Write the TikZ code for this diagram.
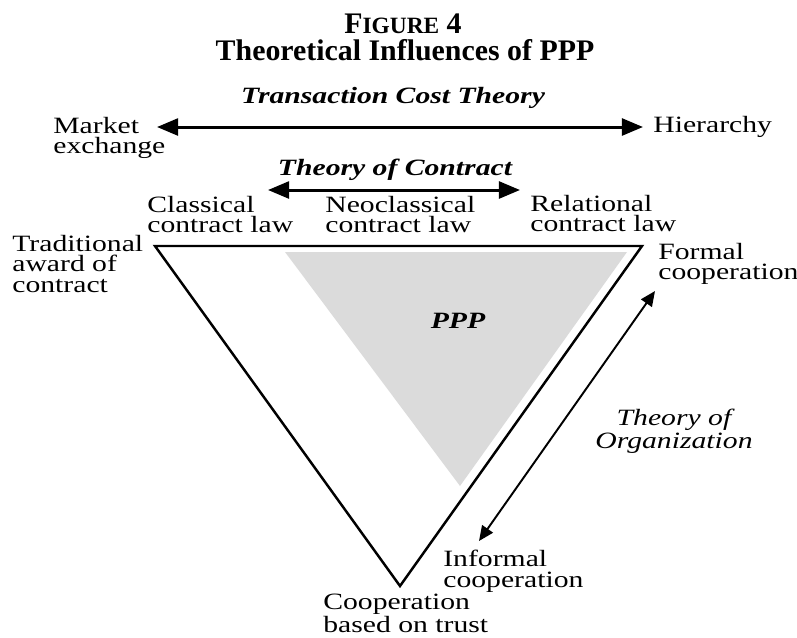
\documentclass[tikz,border=0pt]{standalone}
\usepackage{fontspec}
\setmainfont{Liberation Serif}
\newfontfamily\labelfont[FakeStretch=1.27]{Liberation Serif}
\usetikzlibrary{arrows.meta, positioning}

\begin{document}
\begin{tikzpicture}[
  x=0.02cm, y=-0.02cm,
  lbl/.style={inner sep=0pt, align=left, font=\labelfont\fontsize{13.3}{11.6}\selectfont},
  theory/.style={inner sep=0pt, font=\labelfont\fontsize{13.3}{11.6}\selectfont\bfseries\itshape},
  heading/.style={inner sep=0pt, font=\fontsize{17}{17}\selectfont\bfseries},
  link/.style={{Triangle[length=12pt, width=9.6pt]}-{Triangle[length=12pt, width=9.6pt]}, line width=1.7pt},
  thinlink/.style={{Triangle[length=8.5pt, width=7.4pt]}-{Triangle[length=8.5pt, width=7.4pt]}, line width=1.1pt}
]
\useasboundingbox (0,0) rectangle (797,637);

% headings
\node[heading] (fig) at (403, 24) {F{\fontsize{13.3}{13.3}\selectfont IGURE} 4};
\node[heading] (title) at (405, 50) {Theoretical Influences of PPP};

% transaction cost axis
\node[theory] (tct) at (393, 98) {Transaction Cost Theory};
\node[lbl, anchor=north west] (market) at (53, 117) {Market\\exchange};
\node[lbl, anchor=north west] (hier) at (653, 116) {Hierarchy};
\coordinate (tcL) at (157, 127);
\coordinate (tcR) at (643, 127);
\draw[link] (tcL) -- (tcR);

% contract axis
\node[theory] (toc) at (395, 170) {Theory of Contract};
\coordinate (ctL) at (268, 190);
\coordinate (ctR) at (520, 190);
\draw[link] (ctL) -- (ctR);
\node[lbl, anchor=north west] (classical) at (147, 196) {Classical\\contract law};
\node[lbl, anchor=north west] (neo) at (325, 196) {Neoclassical\\contract law};
\node[lbl, anchor=north west] (relational) at (530, 195) {Relational\\contract law};

% triangle
\coordinate (tl) at (155, 246);
\coordinate (tr) at (642, 246);
\coordinate (bt) at (400, 586);
\fill[black!14] (285, 252) -- (627, 252) -- (460, 486) -- cycle;
\draw[line width=1.4pt, line join=miter] (tl) -- (tr) -- (bt) -- cycle;
\node[theory] (ppp) at (458, 321) {PPP};

% corner labels
\node[lbl, anchor=north west] (trad) at (12, 235) {Traditional\\award of\\contract};
\node[lbl, anchor=north west] (formal) at (658, 243) {Formal\\cooperation};
\node[lbl, anchor=north west] (informal) at (443, 550) {Informal\\cooperation};
\node[lbl, anchor=north west] (trust) at (323, 594) {Cooperation\\based on trust};

% organization axis
\coordinate (orgT) at (655, 291);
\coordinate (orgB) at (479, 541);
\draw[thinlink] (orgT) -- (orgB);
\node[lbl, align=center, font=\labelfont\fontsize{13.3}{13}\selectfont\itshape, anchor=north] (too) at (674, 409) {Theory of\\Organization};
\end{tikzpicture}
\end{document}
